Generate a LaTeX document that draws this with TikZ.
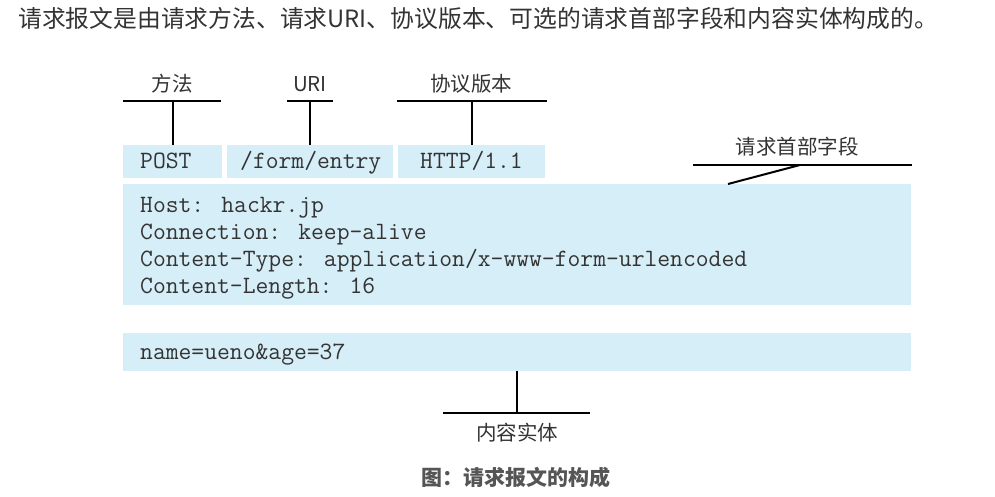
\documentclass[tikz,border=0pt]{standalone}
\usepackage{fontspec}
\setmainfont{Noto Sans CJK SC}
\definecolor{boxblue}{RGB}{214,238,247}
\definecolor{txt}{RGB}{51,51,51}
\definecolor{captxt}{RGB}{85,85,85}
\begin{document}
\begin{tikzpicture}[x=1pt,y=-1pt,
  blk/.style={fill=boxblue, draw=none, anchor=north west, inner sep=0, outer sep=0},
  code/.style={anchor=base west, inner sep=0, font=\ttfamily\fontsize{24.9}{27}\selectfont, text=txt},
  lbl/.style={inner sep=0, font=\fontsize{20.5}{24}\selectfont, text=txt},
  lead/.style={line width=2pt, black}]
\useasboundingbox (0,0) rectangle (995,497);
\fill[white] (0,0) rectangle (995,497);

\node[anchor=west, inner sep=0, font=\fontsize{23.8}{28}\selectfont, text=txt] (title) at (18,18) {请求报文是由请求方法、请求URI、协议版本、可选的请求首部字段和内容实体构成的。};

% boxes
\node[blk, minimum width=99, minimum height=33] (post) at (123,145) {};
\node[blk, minimum width=166, minimum height=33] (uri) at (227,145) {};
\node[blk, minimum width=147, minimum height=33] (ver) at (398,145) {};
\node[blk, minimum width=788, minimum height=121] (hdr) at (123,184) {};
\node[blk, minimum width=788, minimum height=38] (body) at (123,333) {};

% code texts
\node[code] (tpost) at (140,169) {POST};
\node[code] (turi) at (240,169) {/form/entry};
\node[code] (tver) at (420,169) {HTTP/1.1};
\node[code] (h1) at (140,212) {Host: hackr.jp};
\node[code] (h2) at (140,239) {Connection: keep-alive};
\node[code] (h3) at (140,266) {Content-Type: application/x-www-form-urlencoded};
\node[code] (h4) at (140,293) {Content-Length: 16};
\node[code] (tbody) at (140,359) {name=ueno\&age=37};

% labels
\node[lbl] (lm) at (172,84) {方法};
\node[lbl] (lu) at (310,84) {URI};
\node[lbl] (lv) at (471,84) {协议版本};
\node[lbl] (lh) at (797,147) {请求首部字段};
\node[lbl] (lb) at (517,433) {内容实体};

% leader lines
\coordinate (m1) at (123,101); \coordinate (m2) at (221,101);
\draw[lead] (m1) -- (m2);
\draw[lead] (post.north |- m1) -- (post.north);

\coordinate (u1) at (287,101); \coordinate (u2) at (333,101);
\draw[lead] (u1) -- (u2);
\draw[lead] (uri.north |- u1) -- (uri.north);

\coordinate (v1) at (397,101); \coordinate (v2) at (547,101);
\draw[lead] (v1) -- (v2);
\draw[lead] (ver.north |- v1) -- (ver.north);

\coordinate (k1) at (693,165); \coordinate (k2) at (912,165);
\coordinate (kk) at (800,165); \coordinate (kd) at (728,184);
\draw[lead] (k1) -- (k2);
\draw[lead] (kk) -- (kd);

\coordinate (b1) at (443,413); \coordinate (b2) at (590,413);
\draw[lead] (b1) -- (b2);
\draw[lead] (body.south) -- (body.south |- b1);

% caption
\node[inner sep=0, font=\bfseries\fontsize{21}{24}\selectfont, text=captxt] (cap) at (516,477) {图：请求报文的构成};
\end{tikzpicture}
\end{document}
